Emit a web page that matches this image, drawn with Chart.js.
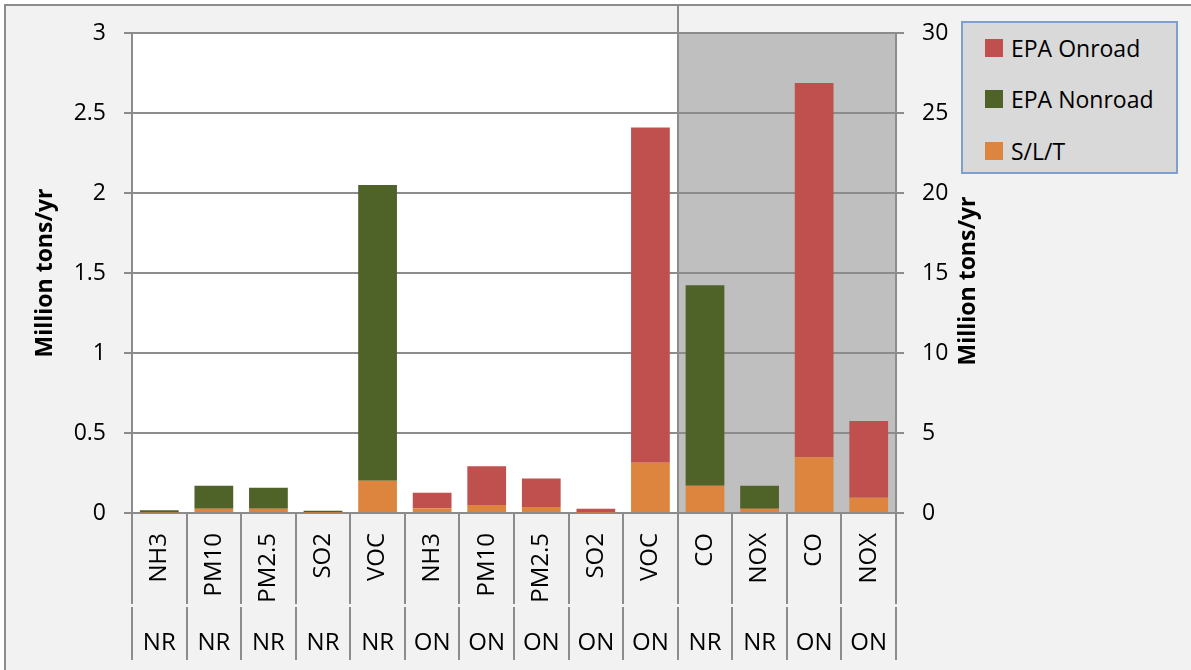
<!DOCTYPE html>
<html>
<head>
<meta charset="utf-8">
<script src="https://cdn.jsdelivr.net/npm/chart.js@4.4.1/dist/chart.umd.min.js"></script>
<style>
    html, body { margin: 0; padding: 0; background: #ffffff; }
    #frame {
        position: absolute; left: 4px; top: 4px; width: 1200px; height: 680px;
        background: #f2f2f2; border: 2px solid #8c8c8c; box-sizing: border-box;
    }
    #chart { position: absolute; left: 0; top: 0; }
    #legend {
        position: absolute; left: 961px; top: 21px; width: 217px; height: 153px;
        box-sizing: border-box; background: #d9d9d9; border: 2px solid #7f9fcf;
        font-family: 'Open Sans', sans-serif; font-size: 23px; color: #000;
    }
    #legend .item { position: absolute; left: 22px; display: flex; align-items: center; height: 30px; }
    #legend .swatch { width: 18px; height: 18px; margin-right: 8px; }
</style>
</head>
<body>
<div id="frame"></div>
<canvas id="chart" width="1191" height="670"></canvas>
<div id="legend"></div>
<script>
// category labels (two levels)
const pollutants = ['NH3', 'PM10', 'PM2.5', 'SO2', 'VOC', 'NH3', 'PM10', 'PM2.5', 'SO2', 'VOC', 'CO', 'NOX', 'CO', 'NOX'];
const sectors = ['NR', 'NR', 'NR', 'NR', 'NR', 'ON', 'ON', 'ON', 'ON', 'ON', 'NR', 'NR', 'ON', 'ON'];

// left axis (first ten categories), million tons/yr
const sltLeft = [0.003, 0.027, 0.027, 0.002, 0.202, 0.029, 0.050, 0.038, 0.003, 0.314];
const nonroadLeft = [0.014, 0.143, 0.131, 0.012, 1.848, null, null, null, null, null];
const onroadLeft = [null, null, null, null, null, 0.098, 0.242, 0.177, 0.024, 2.096];

// right axis (CO and NOX), million tons/yr
const sltRight = [1.71, 0.27, 3.48, 0.96];
const nonroadRight = [12.52, 1.44, null, null];
const onroadRight = [null, null, 23.4, 4.79];

const leftMax = 3, leftStep = 0.5;
const rightMax = 30, rightStep = 5;

const colors = {
    onroad: '#c0504d',
    nonroad: '#4f6228',
    slt: '#dd843f',
};

const FONT = "'Open Sans', sans-serif";
const gridColor = '#8c8c8c';

const nRight = sltRight.length;
const nLeft = sltLeft.length;
const leftPart = (arr) => arr.concat(Array(nRight).fill(null));
const rightPart = (arr) => Array(nLeft).fill(null).concat(arr);

const datasets = [
    { label: 'S/L/T', data: leftPart(sltLeft), backgroundColor: colors.slt, yAxisID: 'y' },
    { label: 'EPA Nonroad', data: leftPart(nonroadLeft), backgroundColor: colors.nonroad, yAxisID: 'y' },
    { label: 'EPA Onroad', data: leftPart(onroadLeft), backgroundColor: colors.onroad, yAxisID: 'y' },
    { label: 'S/L/T', data: rightPart(sltRight), backgroundColor: colors.slt, yAxisID: 'y2' },
    { label: 'EPA Nonroad', data: rightPart(nonroadRight), backgroundColor: colors.nonroad, yAxisID: 'y2' },
    { label: 'EPA Onroad', data: rightPart(onroadRight), backgroundColor: colors.onroad, yAxisID: 'y2' },
].map((d) => ({ ...d, stack: 'all', barPercentage: 0.71, categoryPercentage: 1 }));

// panel backgrounds, separators and the right-hand axis title
const decorations = {
    id: 'decorations',
    beforeDraw(chart) {
        const { ctx, chartArea, scales } = chart;
        const split = scales.x.getPixelForValue(nLeft - 0.5);
        ctx.save();
        ctx.fillStyle = '#ffffff';
        ctx.fillRect(chartArea.left, chartArea.top, split - chartArea.left, chartArea.bottom - chartArea.top);
        ctx.fillStyle = '#bfbfbf';
        ctx.fillRect(split, chartArea.top, chartArea.right - split, chartArea.bottom - chartArea.top);
        ctx.restore();
    },
    afterDraw(chart) {
        const { ctx, chartArea, scales } = chart;
        const x = scales.x;
        const rowSplit = scales.x2.top;
        const labelBottom = scales.x2.bottom - 10;
        ctx.save();
        ctx.strokeStyle = gridColor;
        ctx.lineWidth = 2;
        for (let i = 0; i <= pollutants.length; i++) {
            const px = Math.round(x.getPixelForValue(i - 0.5));
            ctx.beginPath();
            ctx.moveTo(px, chartArea.bottom);
            ctx.lineTo(px, rowSplit - 1);
            ctx.moveTo(px, rowSplit + 2);
            ctx.lineTo(px, labelBottom);
            ctx.stroke();
        }
        // divider between the two panels
        const split = Math.round(x.getPixelForValue(nLeft - 0.5));
        ctx.beginPath();
        ctx.moveTo(split, 5);
        ctx.lineTo(split, chartArea.bottom);
        ctx.stroke();

        // right axis title, reading bottom to top
        ctx.fillStyle = '#000';
        ctx.font = 'bold 23px ' + FONT;
        ctx.textAlign = 'center';
        ctx.textBaseline = 'middle';
        ctx.translate(968, (chartArea.top + chartArea.bottom) / 2 + 8);
        ctx.rotate(-Math.PI / 2);
        ctx.fillText('Million tons/yr', 0, 0);
        ctx.restore();
    },
};

const tickFont = { family: FONT, size: 23 };
const plainNumber = (v) => String(Number(v.toFixed(2)));

new Chart(document.getElementById('chart'), {
    type: 'bar',
    data: { labels: pollutants, datasets },
    options: {
        responsive: false,
        animation: false,
        devicePixelRatio: 1,
        layout: { padding: { top: 33, left: 0, right: 0, bottom: 0 } },
        plugins: {
            legend: { display: false },
            tooltip: { enabled: false },
        },
        scales: {
            x: {
                stacked: true,
                weight: 0,
                grid: { display: false, drawTicks: false },
                border: { display: false },
                ticks: {
                    color: '#000', font: { family: FONT, size: 24 }, padding: 20,
                    maxRotation: 90, minRotation: 90, autoSkip: false,
                },
                afterFit(scale) { scale.height = 92; },
            },
            x2: {
                type: 'category',
                labels: sectors,
                position: 'bottom',
                weight: 1,
                grid: { display: false, drawTicks: false },
                border: { display: false },
                ticks: { color: '#000', font: { family: FONT, size: 24 }, padding: 24, maxRotation: 0, autoSkip: false },
                afterFit(scale) { scale.height = 65; },
            },
            y: {
                position: 'left',
                stacked: true,
                min: 0,
                max: leftMax,
                ticks: { stepSize: leftStep, color: '#000', font: tickFont, padding: 18, callback: plainNumber },
                grid: { color: gridColor, lineWidth: 2, tickLength: 8 },
                border: { color: gridColor, width: 2 },
                title: {
                    display: true,
                    text: 'Million tons/yr',
                    color: '#000',
                    font: { family: FONT, size: 23, weight: 'bold' },
                    padding: { top: 32, bottom: 0 },
                },
                afterFit(scale) { scale.width = 132; },
            },
            y2: {
                position: 'right',
                stacked: true,
                min: 0,
                max: rightMax,
                ticks: { stepSize: rightStep, color: '#000', font: tickFont, padding: 18, callback: plainNumber },
                grid: { drawOnChartArea: false, color: gridColor, lineWidth: 2, tickLength: 8 },
                border: { color: gridColor, width: 2 },
                afterFit(scale) { scale.width = 1191 - 896; },
            },
        },
    },
    plugins: [decorations],
});

// legend box, same order as the reference (top of stack first)
const legend = document.getElementById('legend');
const legendItems = datasets.slice(0, 3).reverse();
const rowCenters = [25, 76, 128];
legendItems.forEach((d, i) => {
    const item = document.createElement('div');
    item.className = 'item';
    item.style.top = (rowCenters[i] - 15) + 'px';
    const sw = document.createElement('span');
    sw.className = 'swatch';
    sw.style.background = d.backgroundColor;
    const txt = document.createElement('span');
    txt.textContent = d.label;
    item.appendChild(sw);
    item.appendChild(txt);
    legend.appendChild(item);
});
</script>
</body>
</html>
